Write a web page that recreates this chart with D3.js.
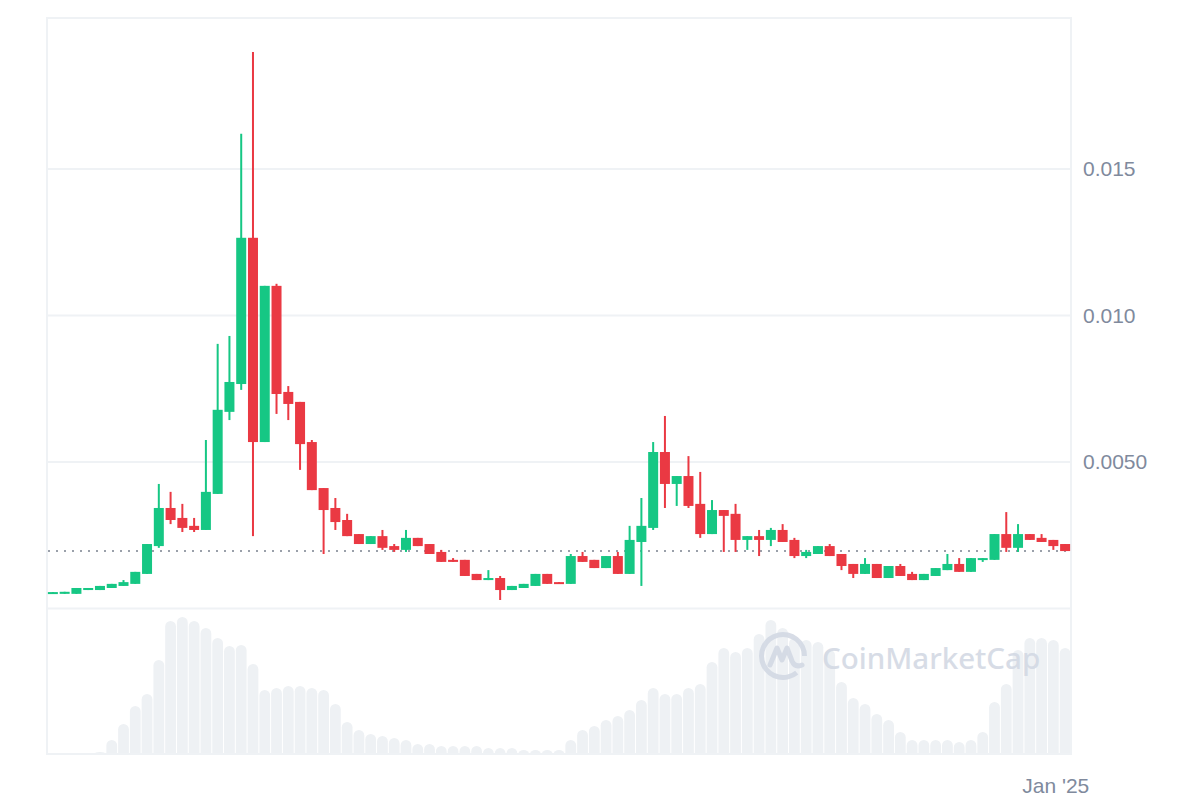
<!DOCTYPE html>
<html>
<head>
<meta charset="utf-8">
<script src="https://cdn.jsdelivr.net/npm/d3@7"></script>
<style>
  body { margin: 0; background: #fff; }
  svg { display: block; }
</style>
</head>
<body>
<svg id="chart" width="1200" height="800"></svg>
<script>
// daily candles, first day of the series
var start_day = "2024-10-07";

var open_vals = [
    0.00050, 0.00050, 0.00050, 0.00063, 0.00063, 0.00070, 0.00077, 0.00084, 0.00118, 0.00213,
    0.00343, 0.00309, 0.00282, 0.00268, 0.00391, 0.00671, 0.00766, 0.01265, 0.00568, 0.01101,
    0.00739, 0.00705, 0.00568, 0.00411, 0.00343, 0.00302, 0.00254, 0.00220, 0.00247, 0.00213,
    0.00200, 0.00241, 0.00220, 0.00193, 0.00166, 0.00166, 0.00118, 0.00097, 0.00104, 0.00063,
    0.00070, 0.00077, 0.00118, 0.00090, 0.00084, 0.00179, 0.00166, 0.00138, 0.00179, 0.00118,
    0.00227, 0.00275, 0.00534, 0.00425, 0.00452, 0.00357, 0.00254, 0.00336, 0.00323, 0.00234,
    0.00247, 0.00234, 0.00268, 0.00234, 0.00179, 0.00186, 0.00213, 0.00186, 0.00152, 0.00118,
    0.00152, 0.00104, 0.00145, 0.00118, 0.00097, 0.00111, 0.00131, 0.00152, 0.00125, 0.00166,
    0.00166, 0.00254, 0.00207, 0.00254, 0.00241, 0.00234, 0.00220
];
var high_vals = [
    0.00056, 0.00057, 0.00070, 0.00070, 0.00077, 0.00084, 0.00097, 0.00125, 0.00220, 0.00425,
    0.00398, 0.00357, 0.00309, 0.00575, 0.00903, 0.00930, 0.01620, 0.01899, 0.01101, 0.01108,
    0.00759, 0.00705, 0.00575, 0.00411, 0.00377, 0.00323, 0.00254, 0.00247, 0.00268, 0.00220,
    0.00268, 0.00241, 0.00220, 0.00200, 0.00172, 0.00166, 0.00118, 0.00131, 0.00111, 0.00077,
    0.00084, 0.00118, 0.00118, 0.00090, 0.00186, 0.00193, 0.00166, 0.00179, 0.00193, 0.00282,
    0.00377, 0.00568, 0.00657, 0.00452, 0.00520, 0.00466, 0.00370, 0.00336, 0.00357, 0.00247,
    0.00268, 0.00275, 0.00288, 0.00241, 0.00200, 0.00213, 0.00220, 0.00186, 0.00152, 0.00172,
    0.00152, 0.00145, 0.00152, 0.00125, 0.00118, 0.00138, 0.00186, 0.00172, 0.00172, 0.00172,
    0.00254, 0.00329, 0.00288, 0.00254, 0.00254, 0.00234, 0.00220
];
var low_vals = [
    0.00050, 0.00050, 0.00050, 0.00063, 0.00063, 0.00070, 0.00077, 0.00084, 0.00118, 0.00207,
    0.00288, 0.00261, 0.00261, 0.00268, 0.00391, 0.00643, 0.00746, 0.00247, 0.00568, 0.00664,
    0.00643, 0.00473, 0.00404, 0.00186, 0.00268, 0.00247, 0.00220, 0.00220, 0.00200, 0.00193,
    0.00193, 0.00213, 0.00186, 0.00159, 0.00159, 0.00111, 0.00097, 0.00097, 0.00029, 0.00063,
    0.00070, 0.00077, 0.00084, 0.00084, 0.00084, 0.00159, 0.00138, 0.00138, 0.00118, 0.00118,
    0.00077, 0.00268, 0.00343, 0.00350, 0.00343, 0.00241, 0.00254, 0.00193, 0.00193, 0.00200,
    0.00179, 0.00213, 0.00227, 0.00172, 0.00172, 0.00186, 0.00179, 0.00131, 0.00104, 0.00118,
    0.00104, 0.00104, 0.00111, 0.00097, 0.00097, 0.00111, 0.00131, 0.00125, 0.00125, 0.00159,
    0.00166, 0.00193, 0.00193, 0.00234, 0.00227, 0.00200, 0.00196
];
var close_vals = [
    0.00056, 0.00057, 0.00070, 0.00070, 0.00077, 0.00084, 0.00090, 0.00125, 0.00220, 0.00343,
    0.00302, 0.00275, 0.00268, 0.00398, 0.00678, 0.00773, 0.01265, 0.00568, 0.01101, 0.00732,
    0.00698, 0.00561, 0.00404, 0.00336, 0.00295, 0.00247, 0.00220, 0.00247, 0.00207, 0.00200,
    0.00241, 0.00213, 0.00186, 0.00159, 0.00159, 0.00111, 0.00097, 0.00104, 0.00063, 0.00077,
    0.00084, 0.00118, 0.00084, 0.00084, 0.00179, 0.00159, 0.00138, 0.00179, 0.00118, 0.00234,
    0.00282, 0.00534, 0.00425, 0.00452, 0.00350, 0.00254, 0.00336, 0.00316, 0.00234, 0.00247,
    0.00234, 0.00268, 0.00227, 0.00179, 0.00193, 0.00213, 0.00179, 0.00145, 0.00118, 0.00152,
    0.00104, 0.00145, 0.00111, 0.00097, 0.00118, 0.00138, 0.00152, 0.00125, 0.00172, 0.00172,
    0.00254, 0.00207, 0.00254, 0.00234, 0.00227, 0.00213, 0.00196
];
// volume, million USD (estimated)
var volume_vals = [
    0, 0, 0, 0, 2, 14, 30, 48, 60, 94,
    133, 137, 133, 126, 116, 108, 109, 90, 64, 66,
    68, 68, 66, 64, 50, 32, 24, 20, 18, 16,
    14, 10, 10, 8, 8, 8, 8, 6, 6, 6,
    4, 4, 4, 4, 14, 24, 28, 34, 38, 44,
    54, 66, 60, 60, 66, 70, 92, 106, 102, 106,
    120, 134, 126, 116, 114, 112, 104, 72, 56, 50,
    40, 34, 22, 14, 14, 14, 14, 12, 14, 22,
    52, 70, 104, 116, 116, 114, 106
];
var price_ticks = [0.005, 0.010, 0.015];
var date_ticks = ["2025-01-01"];
var date_tick_labels = ["Jan '25"];

var UP = "#16c784";
var DOWN = "#ea3943";
var GRID = "#eff2f5";
var LABEL = "#808a9d";

var svg = d3.select("#chart");

// plot box ("top" is taken by window.top, so prefix them)
var plot_left = 47, plot_right = 1071, plot_top = 18;
var price_bottom = 608.5, vol_bottom = 754;

var parse = d3.utcParse("%Y-%m-%d");
var first = parse(start_day);
var days = d3.utcDay.range(first, d3.utcDay.offset(first, open_vals.length));

var candles = days.map(function (d, i) {
    return {
        date: d,
        open: open_vals[i],
        high: high_vals[i],
        low: low_vals[i],
        close: close_vals[i],
        volume: volume_vals[i]
    };
});

var x = d3.scaleUtc()
    .domain([first, d3.utcDay.offset(first, candles.length)])
    .range([plot_left, plot_right]);
var step = x(days[1]) - x(days[0]);
var body_w = step * 0.85;

var y = d3.scaleLinear().domain([0, 0.02015]).range([price_bottom, plot_top]);
var yv = d3.scaleLinear().domain([0, 146]).range([vol_bottom, 608]);

// centre of a day's candle
function cx(d) { return x(d.date) + step / 2; }

// grid lines
svg.append("g")
    .selectAll("line")
    .data(price_ticks).enter()
    .append("line")
    .attr("x1", plot_left).attr("x2", plot_right)
    .attr("y1", function (d) { return y(d); })
    .attr("y2", function (d) { return y(d); })
    .attr("stroke", GRID)
    .attr("stroke-width", 2);

// volume bars with rounded tops
var vol_w = step - 1;
svg.append("g")
    .selectAll("path")
    .data(candles.filter(function (d) { return d.volume > 0; })).enter()
    .append("path")
    .attr("fill", "#eef1f4")
    .attr("d", function (d) {
        var x0 = cx(d) - vol_w / 2;
        var t = yv(d.volume);
        var r = vol_w / 2;
        var h = vol_bottom - t;
        if (h < r) {
            r = h;
        }
        return "M" + x0 + "," + vol_bottom +
            "V" + (t + r) +
            "A" + (vol_w / 2) + "," + r + " 0 0 1 " + (x0 + vol_w) + "," + (t + r) +
            "V" + vol_bottom + "Z";
    });

// watermark
var wm = svg.append("g").attr("opacity", 0.9);
var logo_arc = d3.arc()
    .innerRadius(19)
    .outerRadius(24)
    .startAngle(Math.PI * 0.78)
    .endAngle(Math.PI * 2.5);
wm.append("path")
    .attr("transform", "translate(783,656)")
    .attr("d", logo_arc())
    .attr("fill", "#d3d9e4");
wm.append("path")
    .attr("transform", "translate(783,656)")
    .attr("d", "M-13,9 L-6,-8 L-1,4 L4,-8 L9,5 Q12,12 19,9")
    .attr("fill", "none")
    .attr("stroke", "#d3d9e4")
    .attr("stroke-width", 5)
    .attr("stroke-linecap", "round")
    .attr("stroke-linejoin", "round");
wm.append("text")
    .attr("x", 822)
    .attr("y", 669)
    .attr("font-family", "Noto Sans")
    .attr("font-weight", 500)
    .attr("font-size", 29.5)
    .attr("fill", "#d3d9e4")
    .text("CoinMarketCap");

// frame
var frame = svg.append("g")
    .attr("stroke", GRID)
    .attr("stroke-width", 2)
    .attr("fill", "none");
frame.append("rect")
    .attr("x", plot_left).attr("y", plot_top)
    .attr("width", plot_right - plot_left).attr("height", vol_bottom - plot_top);
frame.append("line")
    .attr("x1", plot_left).attr("x2", plot_right)
    .attr("y1", y(0)).attr("y2", y(0));

// last price line
var last = candles[candles.length - 1];
svg.append("line")
    .attr("x1", plot_left + 1).attr("x2", plot_right)
    .attr("y1", y(last.close)).attr("y2", y(last.close))
    .attr("stroke", "#9aa0aa")
    .attr("stroke-width", 2)
    .attr("stroke-dasharray", "2,6");

// candles: wick then body
var candle = svg.append("g")
    .selectAll("g")
    .data(candles).enter()
    .append("g")
    .attr("fill", function (d) { return d.close >= d.open ? UP : DOWN; });

candle.append("rect")
    .attr("x", function (d) { return cx(d) - 1; })
    .attr("width", 2)
    .attr("y", function (d) { return y(d.high); })
    .attr("height", function (d) { return y(d.low) - y(d.high); });

candle.append("rect")
    .attr("x", function (d) { return cx(d) - body_w / 2; })
    .attr("width", body_w)
    .attr("y", function (d) { return y(Math.max(d.open, d.close)); })
    .attr("height", function (d) {
        return Math.max(2, Math.abs(y(d.open) - y(d.close)));
    });

// right price axis, two significant digits: 0.0050, 0.010, 0.015
var y_axis = d3.axisRight(y)
    .tickValues(price_ticks)
    .tickFormat(d3.format(".2r"))
    .tickSize(0)
    .tickPadding(12);
svg.append("g")
    .attr("transform", "translate(" + plot_right + ",0)")
    .call(y_axis)
    .call(function (g) { g.select(".domain").remove(); })
    .selectAll("text")
    .attr("font-family", "Liberation Sans, Arial, sans-serif")
    .attr("font-size", 21)
    .attr("fill", LABEL);

// bottom date axis
var x_axis = d3.axisBottom(x)
    .tickValues(date_ticks.map(parse))
    .tickFormat(function (d, i) { return date_tick_labels[i]; })
    .tickSize(0)
    .tickPadding(24);
svg.append("g")
    .attr("transform", "translate(0," + vol_bottom + ")")
    .call(x_axis)
    .call(function (g) { g.select(".domain").remove(); })
    .selectAll("text")
    .attr("font-family", "Liberation Sans, Arial, sans-serif")
    .attr("font-size", 21)
    .attr("fill", LABEL)
    .attr("dx", -4);
</script>
</body>
</html>
